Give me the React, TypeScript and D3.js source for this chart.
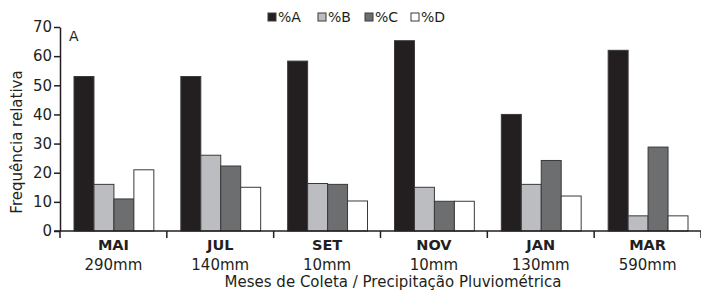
import React, { useEffect, useRef } from 'react';
import * as d3 from 'd3';

const months = ['MAI', 'JUL', 'SET', 'NOV', 'JAN', 'MAR'];
const rainfall = ['290mm', '140mm', '10mm', '10mm', '130mm', '590mm'];
const seriesNames = ['%A', '%B', '%C', '%D'];
const pctA = [53, 53, 58.3, 65.3, 40, 62];
const pctB = [16, 26, 16.3, 15, 16, 5.2];
const pctC = [11, 22.3, 16, 10.2, 24.2, 28.8];
const pctD = [21, 15, 10.3, 10.2, 12, 5.2];
const yTicks = [0, 10, 20, 30, 40, 50, 60, 70];

const colors = ['#231f20', '#bcbdc0', '#6d6e70', '#ffffff'];
const font = '"DejaVu Sans", sans-serif';

const App: React.FC = () => {
  const svgRef = useRef<SVGSVGElement | null>(null);

  useEffect(() => {
    const svg = d3.select(svgRef.current);
    svg.selectAll('*').remove();

    const left = 60, right = 701, top = 27, bottom = 231;
    const series = [pctA, pctB, pctC, pctD];

    const x0 = d3.scaleBand().domain(months).range([left, right]).paddingInner(0).paddingOuter(0);
    const x1 = d3.scaleBand().domain(seriesNames).range([14, x0.bandwidth() - 13]).padding(0);
    const y = d3.scaleLinear().domain([0, 70]).range([bottom, top]);

    // bars
    months.forEach((m, i) => {
      const g = svg.append('g').attr('transform', `translate(${x0(m)},0)`);
      seriesNames.forEach((s, j) => {
        const v = series[j][i];
        g.append('rect')
          .attr('x', x1(s)!)
          .attr('y', y(v))
          .attr('width', x1.bandwidth())
          .attr('height', y(0) - y(v))
          .attr('fill', colors[j])
          .attr('stroke', '#3a3a3a')
          .attr('stroke-width', 1);
      });
    });

    // y axis
    const yAxis = svg.append('g')
      .attr('transform', `translate(${left},0)`)
      .call(d3.axisLeft(y).tickValues(yTicks).tickSize(6).tickSizeOuter(0));
    yAxis.select('.domain').attr('stroke', '#231f20').attr('stroke-width', 1.5);
    yAxis.selectAll('line').attr('stroke', '#231f20').attr('stroke-width', 1.5);
    yAxis.selectAll('text')
      .attr('font-family', font)
      .attr('font-size', 15)
      .attr('fill', '#231f20')
      .attr('x', -8);

    // x axis line + band ticks
    svg.append('line')
      .attr('x1', left - 6).attr('x2', right)
      .attr('y1', bottom).attr('y2', bottom)
      .attr('stroke', '#231f20').attr('stroke-width', 1.5);
    const bounds = months.map(m => x0(m)!).concat([right]);
    svg.selectAll('.xtick')
      .data(bounds)
      .enter()
      .append('line')
      .attr('class', 'xtick')
      .attr('x1', d => d).attr('x2', d => d)
      .attr('y1', bottom).attr('y2', bottom + 7)
      .attr('stroke', '#231f20').attr('stroke-width', 1.5);

    // month labels
    months.forEach((m, i) => {
      const cx = x0(m)! + x0.bandwidth() / 2;
      svg.append('text')
        .attr('x', cx).attr('y', 250)
        .attr('text-anchor', 'middle')
        .attr('font-family', font)
        .attr('font-weight', 'bold')
        .attr('font-size', 14.5)
        .attr('fill', '#231f20')
        .text(m);
      svg.append('text')
        .attr('x', cx).attr('y', 270)
        .attr('text-anchor', 'middle')
        .attr('font-family', font)
        .attr('font-size', 15)
        .attr('fill', '#231f20')
        .text(rainfall[i]);
    });

    // axis titles
    svg.append('text')
      .attr('x', 393).attr('y', 287)
      .attr('text-anchor', 'middle')
      .attr('font-family', font)
      .attr('font-size', 15)
      .attr('fill', '#231f20')
      .text('Meses de Coleta / Precipitação Pluviométrica');
    svg.append('text')
      .attr('transform', 'translate(22,142) rotate(-90)')
      .attr('text-anchor', 'middle')
      .attr('font-family', font)
      .attr('font-size', 15)
      .attr('fill', '#231f20')
      .text('Frequência relativa');

    svg.append('text')
      .attr('x', 69).attr('y', 41)
      .attr('font-family', font)
      .attr('font-size', 14)
      .attr('fill', '#231f20')
      .text('A');

    // legend
    const legendX = [268, 318, 365, 411];
    seriesNames.forEach((s, j) => {
      svg.append('rect')
        .attr('x', legendX[j]).attr('y', 13)
        .attr('width', 8).attr('height', 8)
        .attr('fill', colors[j])
        .attr('stroke', '#3a3a3a').attr('stroke-width', 1);
      svg.append('text')
        .attr('x', legendX[j] + 10).attr('y', 22)
        .attr('font-family', font)
        .attr('font-size', 14)
        .attr('fill', '#231f20')
        .text(s);
    });
  }, []);

  return (
    <div style={{ position: 'absolute', left: 0, top: 0 }}>
      <svg ref={svgRef} width={701} height={291} style={{ display: 'block', background: 'white' }}></svg>
    </div>
  );
};

export default App;
